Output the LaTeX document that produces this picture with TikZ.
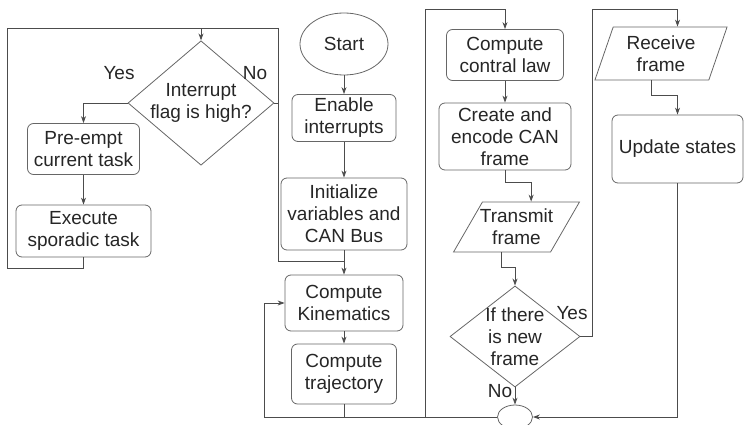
\documentclass[tikz,border=0pt]{standalone}
\usepackage{fontspec}
\setmainfont{Liberation Sans}
\usetikzlibrary{shapes.geometric, arrows.meta}
\tikzset{>={Stealth[length=7pt,width=5pt]},
every node/.style={font=\fontsize{19}{22}\selectfont, text=black!85},
process/.style={draw=black!60, line width=0.8pt, rounded corners=6pt, align=center, inner sep=0pt},
decision/.style={diamond, draw=black!60, line width=0.8pt, align=center, inner sep=-4pt},
io/.style={trapezium, draw=black!60, line width=0.8pt, align=center},
terminal/.style={ellipse, draw=black!60, line width=0.8pt, inner sep=0pt},
flow/.style={draw=black!70, line width=0.8pt},
}

\begin{document}
\begin{tikzpicture}[x=1pt, y=-1pt]
    \useasboundingbox (0,0) rectangle (744,425);
        \node[terminal, minimum width=88, minimum height=62] (start) at (344,44) {Start};
        \node[process, minimum width=104, minimum height=47] (enable) at (344,118) {Enable\\interrupts};
        \node[process, minimum width=126, minimum height=72] (init) at (344,214) {Initialize\\variables and\\CAN Bus};
        \node[process, minimum width=118, minimum height=56] (kin) at (344,303) {Compute\\Kinematics};
        \node[process, minimum width=105, minimum height=60] (traj) at (344,374) {Compute\\trajectory};

        \node[decision, minimum width=146, minimum height=110] (flag) at (201,103) {Interrupt\\flag is high?};
        \node[process, minimum width=112, minimum height=51] (preempt) at (83.5,149) {Pre-empt\\current task};
        \node[process, minimum width=135, minimum height=52] (sporadic) at (83.5,231) {Execute\\sporadic task};

        \node[process, minimum width=117, minimum height=51] (ctrl) at (505,55) {Compute\\contral law};
        \node[process, minimum width=132, minimum height=67] (encode) at (505,136.5) {Create and\\encode CAN\\frame};
        \node[io, trapezium left angle=60, trapezium right angle=120, inner xsep=-2.5pt, inner ysep=7pt] (transmit) at (516.5,227) {Transmit\\frame};
        \node[decision, minimum width=130, minimum height=101] (newframe) at (515,336.5) {If there\\is new\\frame};
        \node[terminal, minimum width=35, minimum height=24] (join) at (515,417) {};

        \node[io, trapezium left angle=71, trapezium right angle=109, inner xsep=13.5pt, inner ysep=8.5pt] (receive) at (661,53.5) {Receive\\frame};
        \node[process, minimum width=131, minimum height=68] (update) at (677.5,149) {Update states};

        \node (yes1) at (119,73) {Yes};
        \node (no1) at (255,73) {No};
        \node (yes2) at (572,313) {Yes};
        \node (no2) at (500,391) {No};

        \coordinate (loopL) at (7,268);
        \coordinate (loopT) at (278,28);
        \coordinate (merge) at (278,261);
        \coordinate (loopB) at (264,417);
        \coordinate (col3) at (425.5,9);
        \coordinate (col4) at (592,9);

        % interrupt handler
        \draw[flow, ->] (flag.west) -| (preempt.north);
        \draw[flow, ->] (preempt) -- (sporadic);
        \draw[flow, ->] (sporadic.south) |- (loopL) |- (loopT -| flag.north) -- (flag.north);
        \draw[flow] (flag.east) -| (loopT) -- (loopT -| flag.north);
        \draw[flow, ->] (loopT) -- (merge) -| (kin.north);

        % main task
        \draw[flow, ->] (start) -- (enable);
        \draw[flow, ->] (enable) -- (init);
        \draw[flow] (init.south) -- (init.south |- merge);
        \draw[flow, ->] (kin) -- (traj);
        \draw[flow] (traj.south) -- (traj.south |- loopB);
        \draw[flow, ->] (join.west) -- (loopB) |- (kin.west);

        % CAN transmit / receive
        \draw[flow, ->] (col3 |- loopB) -- (col3) -| (ctrl.north);
        \draw[flow, ->] (ctrl) -- (encode);
        \draw[flow, ->] (encode.south) -- ++(0,12) -| (transmit.top side);
        \draw[flow, ->] (transmit.bottom side) -- ++(0,15) -| (newframe.north);
        \draw[flow, ->] (newframe.south) -- (join.north);
        \draw[flow, ->] (newframe.east) -| (col4) -| (update.north |- receive.north);
        \draw[flow, ->] (receive.bottom side) -- ++(0,15) -| (update.north);
        \draw[flow, ->] (update.south) |- (join.east);
\end{tikzpicture}
\end{document}
